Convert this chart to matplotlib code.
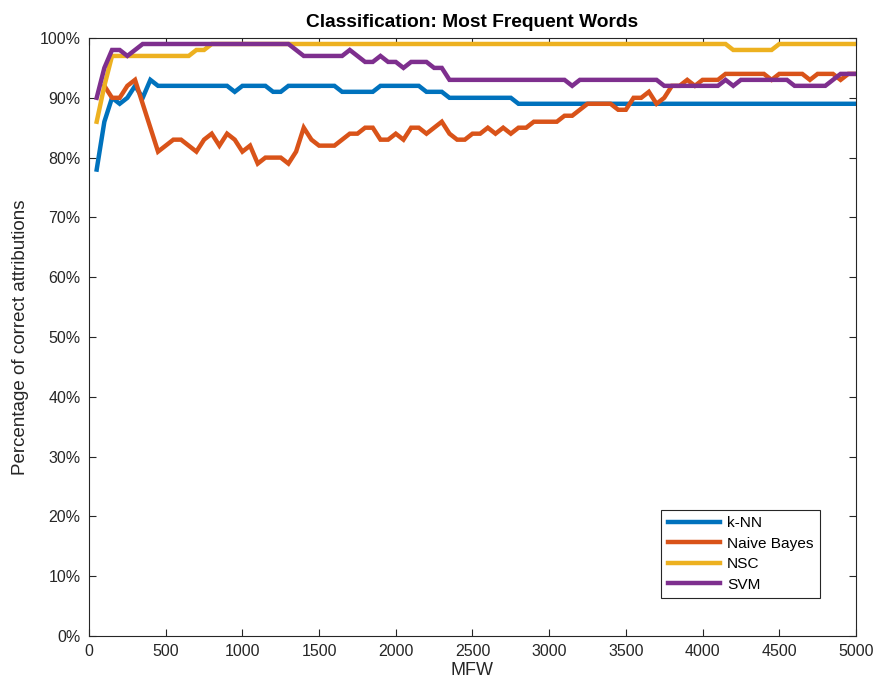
import matplotlib
matplotlib.use("Agg")
import matplotlib.pyplot as plt
import numpy as np

plt.rcParams['font.family'] = ['Liberation Sans', 'DejaVu Sans']

# number of most frequent words used as features
mfw = np.arange(50, 5001, 50)

# accuracy (%) per classifier at each MFW setting
knn = ([78, 86, 90, 89, 90, 92, 90, 93] + [92] * 10 + [91] + [92] * 4 + [91] * 2
       + [92] * 7 + [91] * 5 + [92] * 6 + [91] * 3 + [90] * 9 + [89] * 45)

naive_bayes = [np.nan, 92, 90, 90, 92, 93, 89, 85, 81, 82,
               83, 83, 82, 81, 83, 84, 82, 84, 83, 81,
               82, 79, 80, 80, 80, 79, 81, 85, 83, 82,
               82, 82, 83, 84, 84, 85, 85, 83, 83, 84,
               83, 85, 85, 84, 85, 86, 84, 83, 83, 84,
               84, 85, 84, 85, 84, 85, 85, 86, 86, 86,
               86, 87, 87, 88, 89, 89, 89, 89, 88, 88,
               90, 90, 91, 89, 90, 92, 92, 93, 92, 93,
               93, 93, 94, 94, 94, 94, 94, 94, 93, 94,
               94, 94, 94, 93, 94, 94, 94, 93, 94, 94]

nsc = [86, 92] + [97] * 11 + [98, 98] + [99] * 68 + [98] * 6 + [99] * 11

svm = ([90, 95, 98, 98, 97, 98] + [99] * 20 + [98] + [97] * 6
       + [98, 97, 96, 96, 97, 96, 96, 95, 96, 96, 96, 95, 95]
       + [93] * 16 + [92] + [93] * 11 + [92] * 8 + [93, 92] + [93] * 7
       + [92] * 5 + [93] + [94] * 3)

names = ['k-NN', 'Naive Bayes', 'NSC', 'SVM']
colors = ['#0072BD', '#D95319', '#EDB120', '#7E2F8E']

fig = plt.figure(figsize=(8.77, 6.91), dpi=100)
ax = fig.add_axes([0.1015, 0.0796, 0.8745, 0.8654])

for vals, name, c in zip([knn, naive_bayes, nsc, svm], names, colors):
    ax.plot(mfw, vals, color=c, lw=3.2, label=name, solid_joinstyle='miter')

ax.set_xlim(0, 5000)
ax.set_ylim(0, 100)
ax.set_xticks(np.arange(0, 5001, 500))
ax.set_yticks(np.arange(0, 101, 10))
ax.set_yticklabels([f'{v}%' for v in range(0, 101, 10)])
ax.tick_params(direction='in', length=5, width=0.8, top=True, right=True,
               labelsize=11.5, colors='#262626', pad=6)
for s in ax.spines.values():
    s.set_color('#262626')
    s.set_linewidth(0.8)

ax.set_title('Classification: Most Frequent Words', fontsize=13.8,
             fontweight='bold', pad=8)
ax.set_xlabel('MFW', fontsize=13, color='#262626', labelpad=2)
ax.set_ylabel('Percentage of correct attributions', fontsize=13.5,
              color='#262626', labelpad=8)

leg = ax.legend(loc='lower right', bbox_to_anchor=(0.953, 0.0635),
                borderaxespad=0, fontsize=11.1, handlelength=3.4,
                handletextpad=0.45, labelspacing=0.42, borderpad=0.42,
                fancybox=False, framealpha=1)
leg.get_frame().set_edgecolor('#262626')
leg.get_frame().set_linewidth(0.8)

fig.savefig('out.png', dpi=100)
